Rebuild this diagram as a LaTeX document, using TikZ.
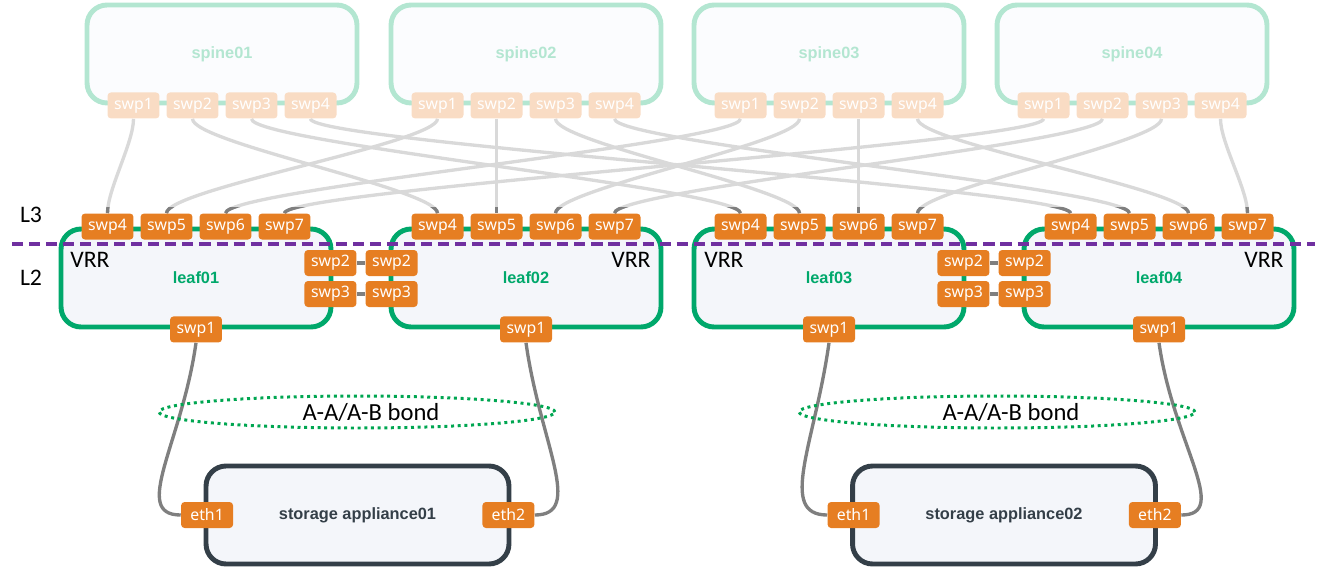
\documentclass[tikz,border=0pt]{standalone}
\usepackage{fontspec}
\setmainfont{Carlito}
\newfontfamily\uifont{Noto Sans}
\newfontfamily\labelfont{Liberation Sans}
\usepackage{tikz}
\usetikzlibrary{positioning,calc,backgrounds,shapes.geometric}
\definecolor{spinegreen}{HTML}{B3E6D1}
\definecolor{spinefill}{HTML}{FBFCFE}
\definecolor{spineport}{HTML}{F9DCC4}
\definecolor{leafgreen}{HTML}{00A86B}
\definecolor{boxfill}{HTML}{F4F6FA}
\definecolor{portorange}{HTML}{E67E22}
\definecolor{hostgrey}{HTML}{343F48}
\definecolor{cablelight}{HTML}{D9D9D9}
\definecolor{cabledark}{HTML}{7F7F7F}
\definecolor{splitpurple}{HTML}{7030A0}
\definecolor{bondgreen}{HTML}{00A651}
\tikzset{
	switch box/.style={
		rectangle,
		rounded corners=0.4cm,
		line width=2.8pt,
		minimum width=5.4cm,
		minimum height=1.96cm,
		font=\labelfont\bfseries\fontsize{9.3}{11}\selectfont
	},
	spine/.style={switch box, draw=spinegreen, fill=spinefill, text=spinegreen},
	leaf/.style={switch box, draw=leafgreen, fill=boxfill, text=leafgreen},
	host/.style={switch box, draw=hostgrey, fill=boxfill, text=hostgrey, minimum width=6.06cm},
	port/.style={
		rectangle,
		rounded corners=2pt,
		minimum width=1.04cm,
		minimum height=0.52cm,
		inner sep=0pt,
		text=white,
		font=\uifont\fontsize{9}{10}\selectfont
	},
	spine port/.style={port, fill=spineport},
	leaf port/.style={port, fill=portorange}
}
\begin{document}
\begin{tikzpicture}[
		x=0.02cm, y=-0.02cm,
		uplink/.style={line width=1.9pt, cablelight},
		uplink stub/.style={line width=1.9pt, cabledark},
		peerlink/.style={line width=1.9pt, cabledark},
		layer label/.style={font=\fontsize{13.5}{15}\selectfont, inner sep=0pt},
		layer split/.style={line width=2.2pt, splitpurple, dash pattern=on 6.3pt off 3.4pt},
		bond ring/.style={ellipse, draw=bondgreen, line width=1.7pt, dash pattern=on 1.7pt off 2.1pt,
			minimum width=7.92cm, minimum height=0.64cm, inner sep=0pt},
		bond label/.style={font=\fontsize{14}{16}\selectfont, inner sep=0pt}
		]
		\useasboundingbox (0,0) rectangle (1324,578);
		% spines
		\foreach \s/\x in {1/222,2/526,3/829,4/1132} {
			\node[spine] (spine\s) at (\x,54) {spine0\s};
			\foreach \p [evaluate=\p as \dx using 59*\p-147.5] in {1,...,4}
				\node[spine port] (spine\s-swp\p) at ($(spine\s.south)+(\dx,0)$) {swp\p};
		}
		% leaves
		\foreach \l/\x in {1/196,2/526,3/829,4/1159} {
			\node[leaf] (leaf\l) at (\x,278) {leaf0\l};
			\foreach \p [evaluate=\p as \dx using 59*\p-324.5] in {4,...,7}
				\node[leaf port] (leaf\l-swp\p) at ($(leaf\l.north)+(\dx,0)$) {swp\p};
			\node[leaf port] (leaf\l-swp1) at (leaf\l.south) {swp1};
		}
		\foreach \l/\side/\dx in {1/east/-3,2/west/3,3/east/-3,4/west/3} {
			\node[leaf port] (leaf\l-swp2) at ($(leaf\l.\side)+(\dx,-15)$) {swp2};
			\node[leaf port] (leaf\l-swp3) at ($(leaf\l.\side)+(\dx,16)$) {swp3};
		}
		% storage
		\foreach \a/\x in {1/357.5,2/1004} {
			\node[host] (app\a) at (\x,515) {storage appliance0\a};
			\node[leaf port] (app\a-eth1) at ($(app\a.west)+(3.5,0)$) {eth1};
			\node[leaf port] (app\a-eth2) at ($(app\a.east)+(-3,0)$) {eth2};
		}
		\node[bond ring] (bond1) at (357,412) {};
		\node[bond ring] (bond2) at (997,412) {};
		\node[bond label] at ($(bond1)+(14,0)$) {A-A/A-B bond};
		\node[bond label] at ($(bond2)+(14,0)$) {A-A/A-B bond};
		\node[layer label] (vrr1) at (90,259.5) {VRR};
		\node[layer label] (vrr2) at (631,259.5) {VRR};
		\node[layer label] (vrr3) at (724,259.5) {VRR};
		\node[layer label] (vrr4) at (1264,259.5) {VRR};
		\node[layer label] (l3) at (31,215) {L3};
		\node[layer label] (l2) at (31,277.5) {L2};
		% cables
		\begin{scope}[on background layer]
			\foreach \s [evaluate=\s as \q using int(\s+3)] in {1,...,4}
				\foreach \p in {1,...,4}
					\draw[uplink] (spine\s-swp\p.south) .. controls +(0,24) and +(0,-24) .. (leaf\p-swp\q.north);
			\begin{scope}
				\clip (0,207) rectangle (1324,217);
				\foreach \s [evaluate=\s as \q using int(\s+3)] in {1,...,4}
					\foreach \p in {1,...,4}
						\draw[uplink stub] (spine\s-swp\p.south) .. controls +(0,24) and +(0,-24) .. (leaf\p-swp\q.north);
			\end{scope}
			\foreach \a/\b in {1/2,3/4} {
				\draw[peerlink] (leaf\a-swp2) -- (leaf\b-swp2);
				\draw[peerlink] (leaf\a-swp3) -- (leaf\b-swp3);
			}
			\draw[peerlink] (leaf1-swp1.south) .. controls +(-14,100) and +(-50,0) .. (app1-eth1.west);
			\draw[peerlink] (leaf2-swp1.south) .. controls +(14,100) and +(50,0) .. (app1-eth2.east);
			\draw[peerlink] (leaf3-swp1.south) .. controls +(-14,100) and +(-50,0) .. (app2-eth1.west);
			\draw[peerlink] (leaf4-swp1.south) .. controls +(14,100) and +(50,0) .. (app2-eth2.east);
		\end{scope}
		\coordinate (split west) at (12,244);
		\coordinate (split east) at (1315,244);
		\draw[layer split] (split west) -- (split east);
	\end{tikzpicture}
\end{document}
